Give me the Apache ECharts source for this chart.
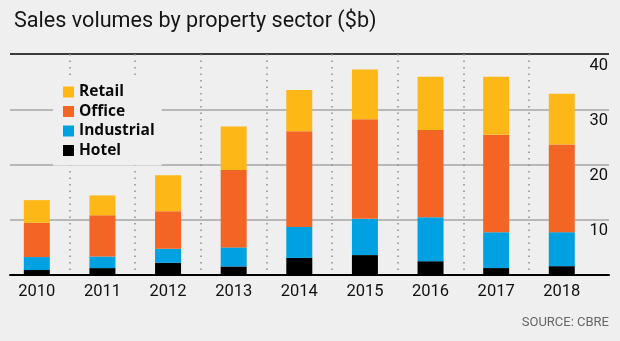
<!DOCTYPE html>
<html>
<head>
<meta charset="utf-8">
<script src="https://cdn.jsdelivr.net/npm/echarts@6/dist/echarts.min.js"></script>
<style>
html,body{margin:0;padding:0;background:#EEEFEE;}
#chart{width:620px;height:341px;}
</style>
</head>
<body>
<div id="chart"></div>
<script>
const titleText = 'Sales volumes by property sector ($b)';
const sourceText = 'SOURCE: CBRE';
const years = ['2010','2011','2012','2013','2014','2015','2016','2017','2018'];
const hotel = [0.9, 1.25, 2.2, 1.55, 3.1, 3.6, 2.5, 1.25, 1.6];
const industrial = [2.35, 2.1, 2.55, 3.45, 5.6, 6.6, 7.95, 6.5, 6.15];
const office = [6.2, 7.45, 6.8, 14.0, 17.3, 18.0, 15.8, 17.65, 15.85];
const retail = [4.1, 3.6, 6.5, 7.9, 7.5, 9.0, 9.65, 10.5, 9.2];
const legendOrder = ['Retail','Office','Industrial','Hotel'];
const yMin = 0, yMax = 40, yStep = 10;

const colors = {Hotel:'#000000', Industrial:'#00A1E1', Office:'#F26524', Retail:'#FDB817'};
const chart = echarts.init(document.getElementById('chart'));
const mk = (name, data) => ({
  name, type:'bar', stack:'total', data, barWidth:26,
  xAxisIndex:0, yAxisIndex:0,
  itemStyle:{color:colors[name]}
});
chart.setOption({
  animation:false,
  backgroundColor:'#EEEFEE',
  title:{text:titleText, left:9, top:6,
    textStyle:{fontFamily:'Roboto', fontWeight:'normal', fontSize:21.6, color:'#161616'}},
  legend:{data:legendOrder, orient:'vertical', left:53, top:75,
    padding:[9,7,7,10], itemGap:3.5, itemWidth:11, itemHeight:11, icon:'rect',
    backgroundColor:'#EEEFEE', z:10, selectedMode:false,
    textStyle:{fontFamily:'Open Sans', fontWeight:'bold', fontSize:15.5, color:'#0a0a0a'}},
  grid:[
    {left:4, right:25.4, top:54, bottom:66},
    {left:10, right:11, top:54, bottom:66}
  ],
  xAxis:[
    {type:'category', gridIndex:0, data:years,
      axisLine:{show:false}, axisTick:{show:false},
      axisLabel:{fontFamily:'Roboto', fontSize:16.5, color:'#111', margin:8},
      splitLine:{show:true, showMinLine:false, showMaxLine:false,
        lineStyle:{color:'#8c8c8c', width:1.5, type:[1.5,5]}}},
    {type:'value', gridIndex:1, min:0, max:1,
      axisLine:{show:true, lineStyle:{color:'#000', width:2}},
      axisTick:{show:false}, axisLabel:{show:false}, splitLine:{show:false}}
  ],
  yAxis:[
    {type:'value', gridIndex:0, min:yMin, max:yMax, interval:yStep, show:false},
    {type:'value', gridIndex:1, position:'right', min:yMin, max:yMax, interval:yStep,
      axisLine:{show:false}, axisTick:{show:false},
      axisLabel:{inside:true, margin:1, verticalAlign:'top', padding:[3,0,0,0],
        showMinLabel:false, fontFamily:'Roboto', fontSize:16.5, color:'#111'},
      splitLine:{show:true, lineStyle:{color:['#a6a6a6','#a6a6a6','#a6a6a6','#a6a6a6','#000'], width:1.5}}}
  ],
  graphic:[
    {type:'text', right:11, top:316,
      style:{text:sourceText, fontFamily:'Roboto', fontSize:13, fill:'#666'}}
  ],
  series:[mk('Hotel',hotel), mk('Industrial',industrial), mk('Office',office), mk('Retail',retail)]
});
</script>
</body>
</html>
